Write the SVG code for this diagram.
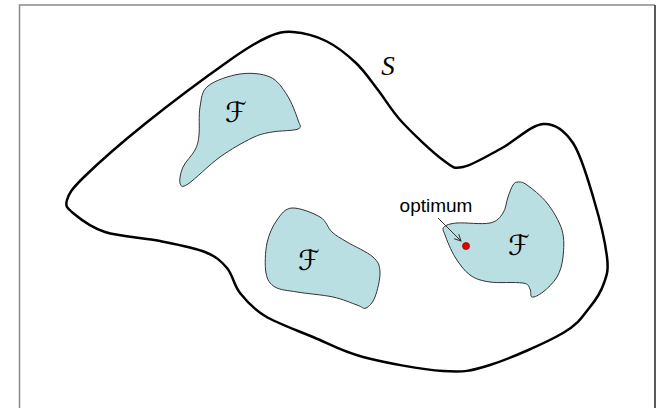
<svg xmlns="http://www.w3.org/2000/svg" width="656" height="408" viewBox="0 0 656 408">
<style>
.frame{fill:none;stroke-width:1.5}
.outer{fill:none;stroke:#000;stroke-width:2.5;stroke-linejoin:round}
.blob{fill:#b9dfe3;stroke:#333;stroke-width:1}
.lbl{font-family:"DejaVu Sans",sans-serif;font-size:28px;text-anchor:middle;fill:#000}
.txt{font-family:"Liberation Sans",Arial,sans-serif;font-size:19px;text-anchor:middle;fill:#000}
</style>
<defs>
<marker id="ah" viewBox="0 0 10 10" refX="9" refY="5" markerWidth="8" markerHeight="8" orient="auto" markerUnits="userSpaceOnUse">
<path d="M1,1 L9,5 L1,9" fill="none" stroke="#333" stroke-width="1.2"/>
</marker>
</defs>
<rect x="0" y="0" width="656" height="408" fill="#fff"/>
<g id="frame">
<path class="frame" d="M19.5,408 L19.5,5 L655,5" stroke="#8a8a8a"/>
<path class="frame" d="M655,5 L655,408" stroke="#222"/>
</g>
<g id="space-S">
<path class="outer" d="M293,32 C302.67,32.67 315.5,35.83 326,41 C336.5,46.17 347.33,54.83 356,63 C364.67,71.17 370.33,80.17 378,90 C385.67,99.83 391.17,110.33 402,122 C412.83,133.67 432.83,152.5 443,160 C453.17,167.5 453.17,169 463,167 C472.83,165 488.67,155.17 502,148 C515.33,140.83 531.17,124.83 543,124 C554.83,123.17 564.5,130.33 573,143 C581.5,155.67 588.33,181 594,200 C599.67,219 605.33,243.17 607,257 C608.67,270.83 606.83,274.67 604,283 C601.17,291.33 596.83,298.67 590,307 C583.17,315.33 579.67,323.33 563,333 C546.33,342.67 510,358.67 490,365 C470,371.33 464.17,372.33 443,371 C421.83,369.67 384.67,362.67 363,357 C341.33,351.33 329.33,343.83 313,337 C296.67,330.17 277.17,323.33 265,316 C252.83,308.67 246.33,301 240,293 C233.67,285 232.83,274.83 227,268 C221.17,261.17 216.17,256.5 205,252 C193.83,247.5 176.67,244.33 160,241 C143.33,237.67 119.5,236.67 105,232 C90.5,227.33 79.33,218.33 73,213 C66.67,207.67 65.17,206 67,200 C68.83,194 70.83,189.83 84,177 C97.17,164.17 121.67,142.5 146,123 C170.33,103.5 209.67,74.33 230,60 C250.33,45.67 257.5,41.67 268,37 C278.5,32.33 283.33,31.33 293,32 Z"/>
<text x="388" y="75" font-family="'Liberation Serif',serif" font-style="italic" font-size="27" text-anchor="middle">S</text>
</g>
<g id="region-F1">
<path class="blob" d="M240,74 C250.33,72.5 262.17,73.5 270,77 C277.83,80.5 282.33,87.83 287,95 C291.67,102.17 296.17,114.33 298,120 C299.83,125.67 302.33,127 298,129 C293.67,131 279.67,130.5 272,132 C264.33,133.5 260.67,133.83 252,138 C243.33,142.17 230.67,149.33 220,157 C209.33,164.67 194.67,179.67 188,184 C181.33,188.33 180.83,185.83 180,183 C179.17,180.17 180.5,172.5 183,167 C185.5,161.5 192.33,155.33 195,150 C197.67,144.67 198.17,142.17 199,135 C199.83,127.83 198.5,115.17 200,107 C201.5,98.83 201.33,91.5 208,86 C214.67,80.5 229.67,75.5 240,74 Z"/>
<text class="lbl" x="236" y="122">ℱ</text>
</g>
<g id="region-F2">
<path class="blob" d="M292,208 C299.17,207.5 313.33,213 320,217 C326.67,221 327.5,227.83 332,232 C336.5,236.17 340.17,237.83 347,242 C353.83,246.17 367.5,252 373,257 C378.5,262 379.67,265.33 380,272 C380.33,278.67 377.33,291 375,297 C372.67,303 369,306.67 366,308 C363,309.33 362.5,306.83 357,305 C351.5,303.17 343,299.17 333,297 C323,294.83 306.67,293.67 297,292 C287.33,290.33 280.17,290.17 275,287 C269.83,283.83 267.33,280.33 266,273 C264.67,265.67 265.17,251.83 267,243 C268.83,234.17 272.83,225.83 277,220 C281.17,214.17 284.83,208.5 292,208 Z"/>
<text class="lbl" x="309" y="270">ℱ</text>
</g>
<g id="region-F3">
<path class="blob" d="M518,182 C520.33,182 522.17,181.5 527,185 C531.83,188.5 541.17,195.5 547,203 C552.83,210.5 559.33,221 562,230 C564.67,239 563.83,249.17 563,257 C562.17,264.83 560.33,271.17 557,277 C553.67,282.83 547.17,288.67 543,292 C538.83,295.33 534.17,297.5 532,297 C529.83,296.5 531.5,291.33 530,289 C528.5,286.67 529.67,284.17 523,283 C514.17,281.83 498.83,283.33 490,282 C481.17,280.67 475.83,279.17 470,275 C464.17,270.83 459.17,263.67 455,257 C450.83,250.33 446.83,240 445,235 C443.17,230 442,229 444,227 C446,225 449.33,223.67 457,223 C464.67,222.33 482.33,224.67 490,223 C497.67,221.33 500,217.33 503,213 C506,208.67 506.33,201.67 508,197 C509.67,192.33 511.33,187.5 513,185 C514.67,182.5 515.67,182 518,182 Z"/>
<text class="lbl" x="519" y="255">ℱ</text>
</g>
<g id="optimum">
<circle cx="466" cy="246" r="3.5" fill="#e00000" stroke="#a00000" stroke-width="0.8"/>
<text class="txt" x="436" y="212">optimum</text>
</g>
<g id="connectors">
<line x1="438" y1="218" x2="461" y2="241" stroke="#333" stroke-width="1" marker-end="url(#ah)"/>
</g>
</svg>
